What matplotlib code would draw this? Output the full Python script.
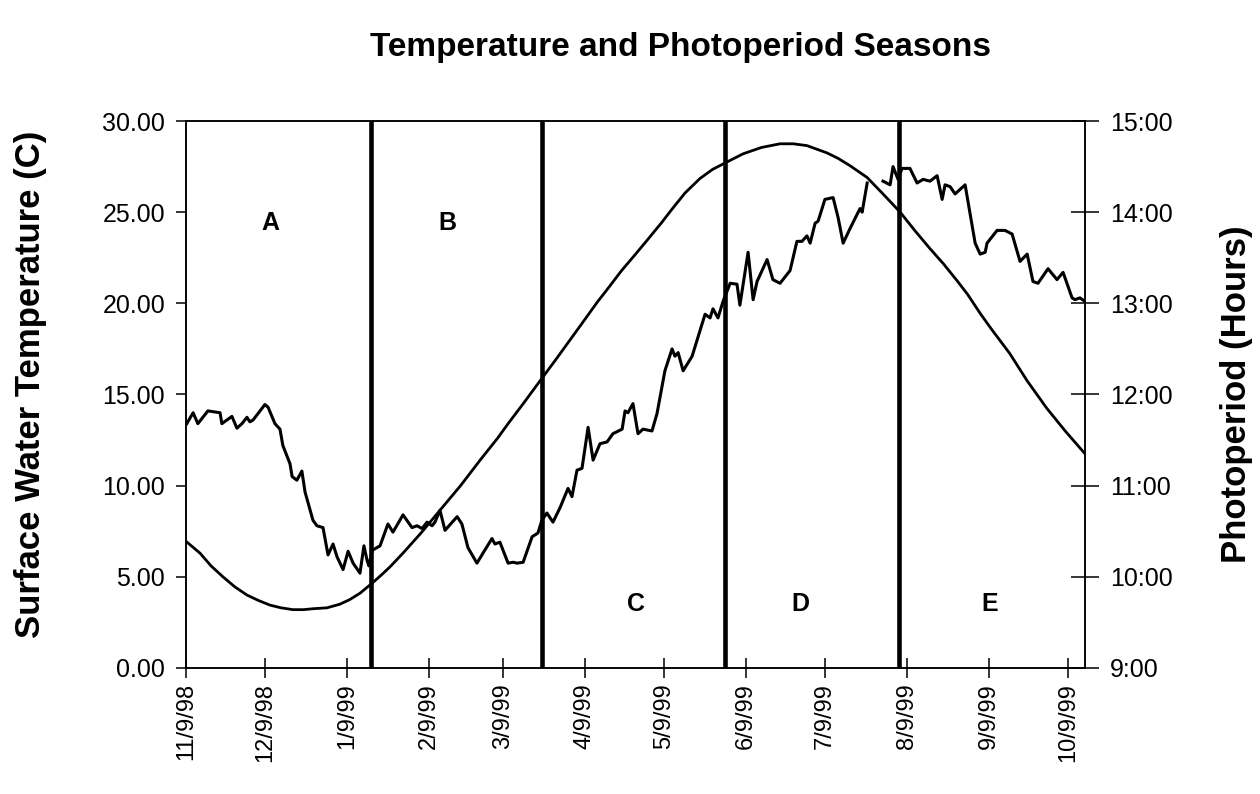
import numpy as np
import matplotlib
matplotlib.use("Agg")
import matplotlib.pyplot as plt
from matplotlib.ticker import FuncFormatter, MultipleLocator
import datetime as dt

plt.rcParams['font.family'] = ['Liberation Sans', 'DejaVu Sans']

# ---------------- data ----------------
start_date = dt.date(1998, 11, 9)

# surface water temperature (C), day offsets from 11/9/98
temp_days = [0.3, 2.7, 4.5, 8.3, 12.9, 13.6, 17.4, 19.3, 21.2, 23.1, 24.2, 25.4, 29.9, 31.1,
             33.7, 35.6, 36.7, 39.4, 40.2, 42.0, 43.9, 45.1, 48.1, 49.6, 51.9, 53.8, 55.7,
             57.2, 59.5, 61.4, 63.3, 65.9, 67.4, 68.6, 69.3, 70.5, 73.5, 76.5, 78.4, 82.2,
             85.6, 87.5, 89.4, 91.3, 93.2, 94.3, 96.2, 98.1, 102.7, 104.5, 106.8, 110.2,
             112.5, 115.9, 117.0, 118.9, 122.0, 123.9, 125.4, 127.7, 131.1, 133.3, 134.8,
             136.7, 139.0, 141.7, 144.7, 146.2, 148.1, 150.0, 152.3, 154.2, 156.8, 159.5,
             161.7, 165.2, 166.3, 167.4, 169.3, 171.2, 173.1, 176.5, 178.4, 181.4, 184.1,
             185.2, 186.4, 188.3, 191.7, 196.6, 198.5, 199.6, 201.5, 203.4, 206.1, 208.7,
             209.8, 212.9, 214.8, 216.3, 220.1, 222.3, 225.0, 228.8, 231.4, 233.3, 235.2,
             236.4, 238.3, 239.4, 242.0, 245.1, 247.0, 248.9, 251.5, 255.3, 256.1, 258.0,
             261.0, 264.0, 266.7, 267.8, 269.7, 271.2, 274.2, 276.9, 279.2, 281.8, 284.5,
             286.4, 287.5, 289.4, 291.3, 295.1, 298.9, 300.8, 302.7, 303.4, 307.2, 310.2,
             312.9, 315.9, 318.6, 320.8, 322.7, 326.5, 329.9, 332.2, 335.6, 336.7, 338.6,
             340.5]
temp_vals = [13.4, 14.0, 13.4, 14.1, 14.0, 13.4, 13.8, 13.15, 13.4, 13.75, 13.5, 13.6, 14.45, 14.3,
             13.4, 13.1, 12.2, 11.2, 10.5, 10.3, 10.8, 9.65, 8.1, 7.8, 7.7, 6.2, 6.8,
             6.1, 5.4, 6.4, 5.75, 5.2, 6.7, 5.9, 5.6, 6.45, 6.7, 7.9, 7.45, 8.4,
             7.7, 7.8, 7.65, 8.0, 7.8, 8.0, 8.65, 7.55, 8.3, 7.9, 6.6, 5.75,
             6.3, 7.1, 6.8, 6.9, 5.75, 5.8, 5.75, 5.8, 7.2, 7.4, 8.1,
             8.5, 8.0, 8.8, 9.85, 9.4, 10.85, 10.95, 13.2, 11.4, 12.3, 12.4,
             12.85, 13.1, 14.1, 14.0, 14.5, 12.85, 13.1, 13.0, 13.95, 16.3, 17.5,
             17.1, 17.3, 16.3, 17.1, 19.4, 19.2, 19.7, 19.2, 20.1, 21.1, 21.05,
             19.9, 22.8, 20.2, 21.2, 22.4, 21.3, 21.1, 21.8, 23.4, 23.4, 23.7,
             23.3, 24.4, 24.5, 25.7, 25.8, 24.7, 23.3, 24.1, 25.2, 25.0, 26.6,
             np.nan, 26.7, 26.5, 27.5, 26.8, 27.4, 27.4, 26.6, 26.8, 26.7, 27.0,
             25.7, 26.5, 26.4, 26.0, 26.5, 23.3, 22.7, 22.8, 23.3, 24.0, 24.0,
             23.8, 22.3, 22.7, 21.2, 21.1, 21.9, 21.3, 21.7, 20.3, 20.2, 20.3,
             20.1]

# photoperiod (hours of daylight), day offsets from 11/9/98
photo_days = [0.4, 5.3, 9.5, 14.0, 18.5, 23.1, 27.5, 31.8, 36.0, 40.5, 44.5, 48.1, 53.4,
              58.3, 62.0, 65.9, 70.5, 74.0, 77.3, 82.2, 89.0, 96.2, 104.0, 111.4, 118.0,
              122.0, 128.0, 134.1, 140.0, 145.0, 150.0, 155.7, 160.0, 165.0, 170.0, 174.6,
              180.0, 184.0, 189.0, 194.7, 199.5, 204.2, 211.0, 218.0, 225.0, 230.0, 235.2,
              242.8, 247.0, 251.5, 258.0, 264.0, 270.5, 276.0, 281.8, 287.0, 292.0, 296.0,
              300.8, 305.0, 312.0, 318.6, 326.0, 333.0, 340.5]
photo_hours = [10.38, 10.26, 10.12, 10.00, 9.89, 9.80, 9.74, 9.69, 9.66, 9.64, 9.64, 9.65, 9.66,
               9.70, 9.75, 9.82, 9.93, 10.02, 10.11, 10.26, 10.48, 10.73, 11.00, 11.28, 11.52,
               11.68, 11.91, 12.15, 12.38, 12.58, 12.78, 13.01, 13.17, 13.36, 13.53, 13.69,
               13.88, 14.03, 14.21, 14.37, 14.47, 14.54, 14.64, 14.71, 14.75, 14.75, 14.73,
               14.65, 14.59, 14.51, 14.38, 14.20, 14.00, 13.80, 13.60, 13.43, 13.25, 13.10,
               12.89, 12.72, 12.45, 12.15, 11.85, 11.60, 11.35]

season_bounds = ["1999-01-18", "1999-03-24", "1999-06-01", "1999-08-06"]
season_labels = ["A", "B", "C", "D", "E"]
tick_dates = ["1998-11-09", "1998-12-09", "1999-01-09", "1999-02-09", "1999-03-09", "1999-04-09",
              "1999-05-09", "1999-06-09", "1999-07-09", "1999-08-09", "1999-09-09", "1999-10-09"]

# ---------------- plot ----------------
t0 = np.datetime64(start_date.isoformat())
def to_dates(days):
    return t0 + (np.array(days) * 24 * 3600).astype('timedelta64[s]')

fig = plt.figure(figsize=(12.6, 7.94), dpi=100)
ax = fig.add_axes([0.1476, 0.1587, 0.7135, 0.6889])
ax2 = ax.twinx()

ax.plot(to_dates(temp_days), temp_vals, color='black', lw=2.2, zorder=3)
ax2.plot(to_dates(photo_days), photo_hours, color='black', lw=2.0, zorder=3)

for b in season_bounds:
    ax.axvline(np.datetime64(b), color='black', lw=3.3, zorder=4)

ax.set_ylim(0, 30)
ax.yaxis.set_major_locator(MultipleLocator(5))
ax.yaxis.set_major_formatter(FuncFormatter(lambda v, p: f"{v:.2f}"))
ax2.set_ylim(9, 15)
ax2.yaxis.set_major_locator(MultipleLocator(1))
ax2.yaxis.set_major_formatter(FuncFormatter(lambda v, p: f"{int(round(v))}:00"))

ax.set_xlim(t0, t0 + np.timedelta64(340, 'D') + np.timedelta64(12, 'h'))
tds = [np.datetime64(d) for d in tick_dates]
ax.set_xticks(tds)
ax.set_xticklabels([f"{int(d[5:7])}/{int(d[8:10])}/{d[2:4]}" for d in tick_dates],
                   rotation=90, fontsize=17)

ax.tick_params(axis='x', direction='inout', length=14, width=1.1, pad=4)
ax.tick_params(axis='y', direction='out', length=7, width=1.1, labelsize=18, pad=8)
ax2.tick_params(axis='y', direction='inout', length=20, width=1.1, labelsize=18, pad=8)

for a in (ax, ax2):
    for s in a.spines.values():
        s.set_linewidth(1.1)

ax.set_ylabel("Surface Water Temperature (C)", fontsize=25, fontweight='bold')
ax.yaxis.set_label_coords(-0.155, 0.519)
ax2.set_ylabel("Photoperiod (Hours)", fontsize=25, fontweight='bold')
ax2.yaxis.set_label_coords(1.150, 0.50)
fig.text(0.54, 0.94, "Temperature and Photoperiod Seasons", fontsize=24, fontweight='bold',
         ha='center', va='center')

label_pos = [(31.8, 24.4), (98.9, 24.4), (170.5, 3.5), (232.6, 3.5), (304.5, 3.5)]
for lab, (d, y) in zip(season_labels, label_pos):
    ax.text(to_dates([d])[0], y, lab, fontsize=18, fontweight='bold', ha='center', va='center')

fig.savefig("out.png", dpi=100)
